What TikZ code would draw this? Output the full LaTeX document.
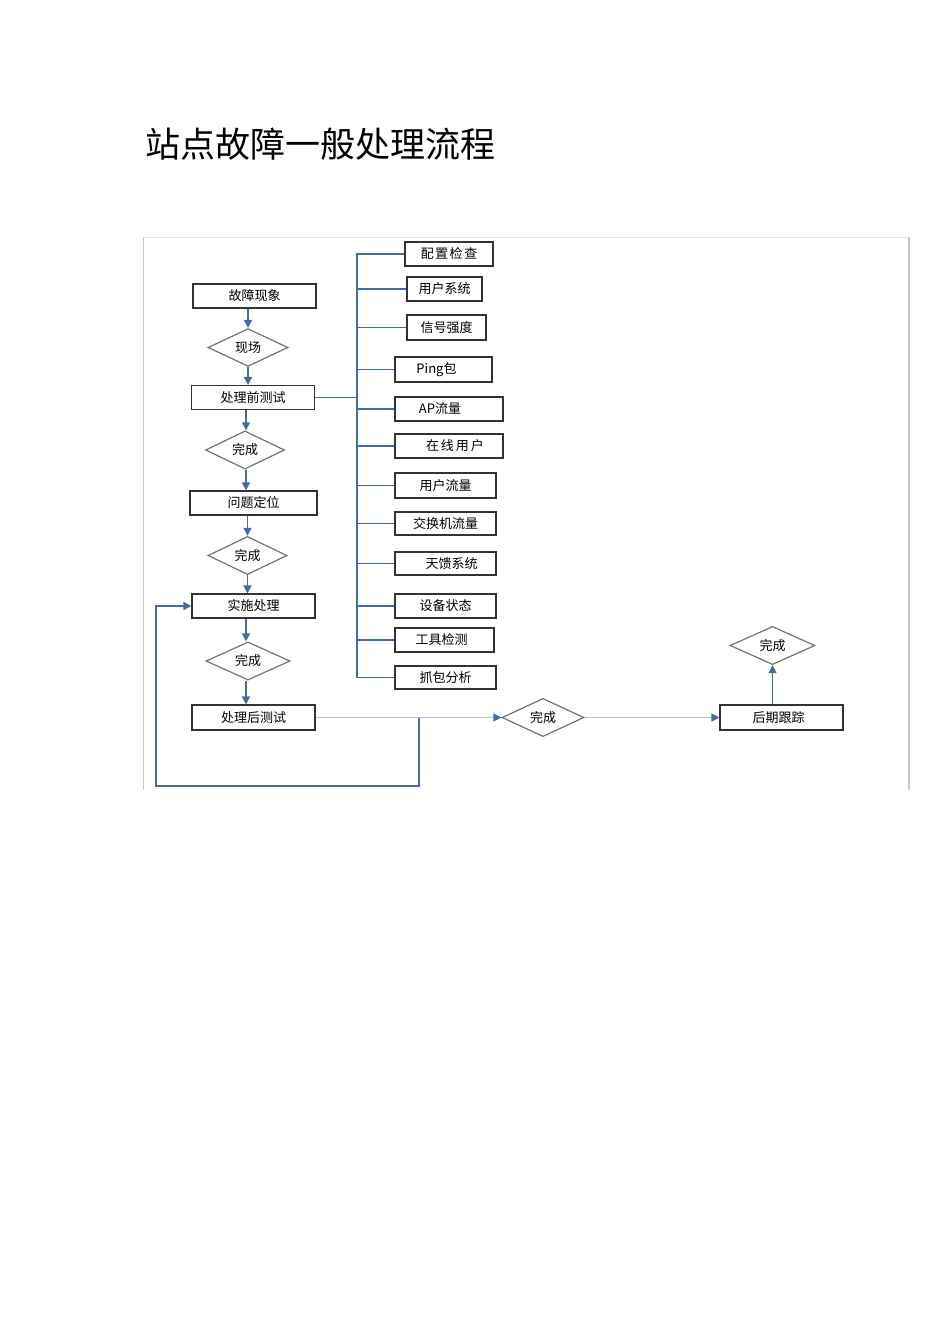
\documentclass[tikz,border=0pt]{standalone}
\usepackage{fontspec}
\setmainfont{Noto Sans CJK SC}
\usetikzlibrary{arrows.meta,shapes.geometric}
\definecolor{lineblue}{RGB}{70,108,158}
\definecolor{lightblue}{RGB}{178,196,216}
\definecolor{diagray}{RGB}{115,115,115}
\definecolor{framegray}{RGB}{200,200,200}
\definecolor{frametop}{RGB}{228,228,228}
\begin{document}
\begin{tikzpicture}[x=1pt,y=-1pt,
  box/.style={draw=black!80, line width=1.1pt, minimum height=24pt, inner sep=0pt,
    font=\fontsize{13}{15}\selectfont},
  dia/.style={diamond, draw=diagray, line width=1.2pt, minimum width=80pt,
    minimum height=25pt, inner sep=0pt, font=\fontsize{13}{15}\selectfont},
  arr/.style={draw=lineblue, line width=1.5pt, -{Triangle[length=8pt,width=8pt]}},
  larr/.style={draw=lightblue, line width=1.5pt, -{Triangle[length=8pt,width=8pt,color=lineblue]}},
  ln/.style={draw=lineblue, line width=1.5pt},
  titlestyle/.style={anchor=west, inner sep=0pt, font=\fontsize{35}{40}\selectfont}
]
\useasboundingbox (0,0) rectangle (950,1344);

% title
\node[titlestyle] (title) at (145,144) {站点故障一般处理流程};

% frame
\draw[frametop, line width=1pt] (143,237) -- (909,237);
\draw[framegray, line width=1pt] (143,237) -- (143,790);
\draw[framegray, line width=1.2pt] (909,237) -- (909,790);

% left column
\node[box, minimum width=123pt] (n1) at (254.5,296) {故障现象};
\node[dia] (d1) at (248,347.5) {现场};
\node[box, minimum width=123pt] (n2) at (253,397.5) {处理前测试};
\node[dia, minimum width=79pt] (d2) at (245,450) {完成};
\node[box, minimum width=127pt] (n3) at (253.5,503) {问题定位};
\node[dia, minimum width=79pt] (d3) at (247.5,555.5) {完成};
\node[box, minimum width=123pt] (n4) at (253.5,606) {实施处理};
\node[dia, minimum width=84pt, minimum height=28pt] (d4) at (248,661) {完成};
\node[box, minimum width=123pt, minimum height=25pt] (n5) at (253.5,717.5) {处理后测试};

% right column boxes
\node[box, minimum width=88pt] (r1) at (449,254) {配\kern1.5pt 置\kern1.5pt 检\kern1.5pt 查};
\node[box, minimum width=75pt] (r2) at (444.5,289) {用户系统};
\node[box, minimum width=79pt, minimum height=25pt] (r3) at (446.5,327.5) {信号强度};
\node[box, minimum width=97pt, minimum height=25pt] (r4) at (443.5,369.5) {Ping包\hspace*{14pt}};
\node[box, minimum width=108pt] (r5) at (449,409) {AP流量\hspace*{18pt}};
\node[box, minimum width=108pt] (r6) at (449,446) {\hspace*{12pt}在\kern2pt 线\kern2pt 用\kern2pt 户};
\node[box, minimum width=101pt, minimum height=25pt] (r7) at (445.5,485.5) {用户流量};
\node[box, minimum width=101pt, minimum height=23pt] (r8) at (445.5,523.5) {交换机流量};
\node[box, minimum width=101pt, minimum height=23pt] (r9) at (445.5,563.5) {\hspace*{12pt}天馈系统};
\node[box, minimum width=101pt] (r10) at (445.5,606) {设备状态};
\node[box, minimum width=99pt] (r11) at (444.5,640) {工具检测\hspace*{6pt}};
\node[box, minimum width=101pt, minimum height=23pt] (r12) at (445.5,677.5) {抓包分析};

% bottom right
\node[dia, minimum width=82pt, minimum height=29pt] (d5) at (543,717.5) {完成};
\node[box, minimum width=123pt, minimum height=25pt] (n6) at (781.5,717.5) {后期跟踪\hspace*{6pt}};
\node[dia, minimum width=85pt, minimum height=31pt] (d6) at (772.5,645.5) {完成};

% left column arrows
\draw[arr] (n1.south -| d1.north) -- (d1.north);
\draw[arr] (d1.south) -- (n2.north -| d1.south);
\draw[arr] (n2.south -| 246,0) -- (d2.north -| 246,0);
\draw[arr] (d2.south -| 246,0) -- (n3.north -| 246,0);
\draw[arr] (n3.south -| d3.north) -- (d3.north);
\draw[arr] (d3.south) -- (n4.north -| d3.south);
\draw[arr] (n4.south -| 246,0) -- (d4.north -| 246,0);
\draw[arr] (d4.south -| 246,0) -- (n5.north -| 246,0);

% bus to right boxes
\coordinate (bt) at (357,253);
\draw[ln] (n2.east) -- (n2.east -| bt);
\draw[ln] (bt) -- (bt |- r12.west) -- (r12.west);
\foreach \r in {r1,r2,r3,r4,r5,r6,r7,r8,r9,r10,r11}{
  \draw[ln] (\r.west -| bt) -- (\r.west);
}

% bottom flow
\draw[larr] (n5.east) -- (d5.west);
\draw[larr] (d5.east) -- (n6.west);
\draw[arr] (n6.north -| d6.south) -- (d6.south);

% loop back
\coordinate (j) at (419,717.5);
\coordinate (c1) at (419,786);
\coordinate (c2) at (156,786);
\draw[arr] (j) -- (c1) -- (c2) |- (n4.west);
\end{tikzpicture}
\end{document}
